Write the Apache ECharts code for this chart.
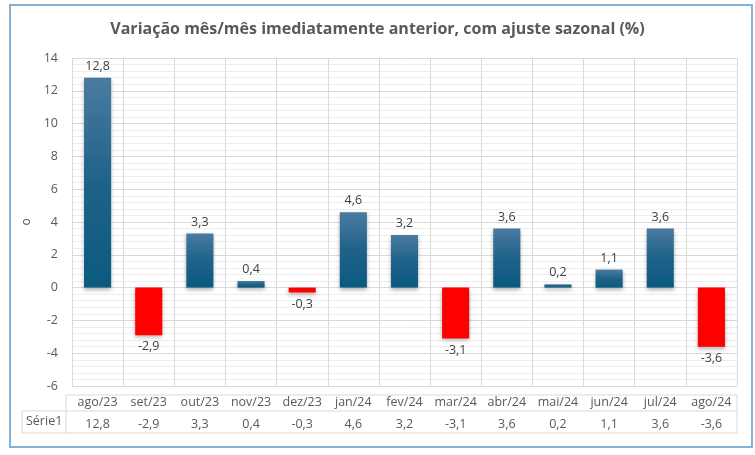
<!DOCTYPE html>
<html>
<head>
<meta charset="utf-8">
<script src="https://cdn.jsdelivr.net/npm/echarts@6/dist/echarts.min.js"></script>
<style>html,body{margin:0;padding:0;background:#fff}#c{width:755px;height:455px}</style>
</head>
<body>
<div id="c"></div>
<script>
const categories = ['ago/23','set/23','out/23','nov/23','dez/23','jan/24','fev/24','mar/24','abr/24','mai/24','jun/24','jul/24','ago/24'];
const values = [12.8, -2.9, 3.3, 0.4, -0.3, 4.6, 3.2, -3.1, 3.6, 0.2, 1.1, 3.6, -3.6];
const seriesName = 'Série1';
const titleText = 'Variação mês/mês imediatamente anterior, com ajuste sazonal (%)';

const fmt = v => v.toFixed(1).replace('.', ',');
const FONT = 'Open Sans';
const chart = echarts.init(document.getElementById('c'));
const blue = new echarts.graphic.LinearGradient(0,0,0,1,[{offset:0,color:'#4a7b9f'},{offset:0.5,color:'#1f6289'},{offset:1,color:'#0b5a80'}]);
chart.setOption({
  backgroundColor: '#fff',
  animation: false,
  textStyle: {fontFamily: FONT},
  title: {text: titleText, left: 'center', top: 16,
    textStyle: {fontFamily: FONT, fontSize: 16, fontWeight: 'bold', color: '#595959'}},
  grid: {left: 72, right: 18, top: 58, bottom: 69},
  xAxis: [{
    type: 'category', data: categories, position: 'bottom',
    axisLine: {show: false}, axisTick: {show: false},
    axisLabel: {interval: 0, margin: 10, color: '#595959', fontSize: 12.5, fontFamily: FONT},
    splitLine: {show: true, interval: 0, lineStyle: {color: '#d9d9d9', width: 1}}
  },{
    type: 'category', data: categories, position: 'bottom', offset: 21,
    axisLine: {show: false}, axisTick: {show: false},
    axisLabel: {interval: 0, margin: 11, color: '#595959', fontSize: 12.5, fontFamily: FONT,
      formatter: (v, i) => fmt(values[i])}
  }],
  yAxis: {
    type: 'value', min: -6, max: 14, interval: 2,
    name: 'o', nameLocation: 'middle', nameRotate: 90, nameGap: 28,
    nameTextStyle: {color: '#595959', fontSize: 12},
    axisLine: {show: false}, axisTick: {show: false},
    axisLabel: {color: '#595959', fontSize: 12.5, margin: 14},
    splitLine: {lineStyle: {color: '#d9d9d9'}},
    minorTick: {show: false, splitNumber: 5},
    minorSplitLine: {show: true, lineStyle: {color: '#ededed'}}
  },
  series: [{
    type: 'bar', name: seriesName, xAxisIndex: 0,
    data: values.map(v => ({value: v, itemStyle: {color: v < 0 ? '#ff0000' : blue},
      label: {position: v < 0 ? 'bottom' : 'top'}})),
    barWidth: '53%',
    itemStyle: {shadowColor: 'rgba(0,0,0,0.3)', shadowBlur: 4, shadowOffsetY: 2},
    label: {show: true, color: '#404040', fontSize: 12.5, distance: 5, formatter: p => fmt(p.value)}
  }],
  graphic: [
    {type: 'rect', shape: {x: 10, y: 5, width: 742, height: 442}, style: {fill: 'none', stroke: '#86b1d3', lineWidth: 2}, z: 100},
    {type: 'polyline', shape: {points: [[66,395],[737,395],[737,433],[22,433],[22,411],[737,411]]}, style: {fill: 'none', stroke: '#d9d9d9', lineWidth: 1}},
    {type: 'line', shape: {x1: 66, y1: 395, x2: 66, y2: 433}, style: {stroke: '#d9d9d9', lineWidth: 1}},
    {type: 'text', left: 26, top: 415, style: {text: seriesName, fill: '#595959', font: '12.5px "Open Sans"'}}
  ]
});
</script>
</body>
</html>
